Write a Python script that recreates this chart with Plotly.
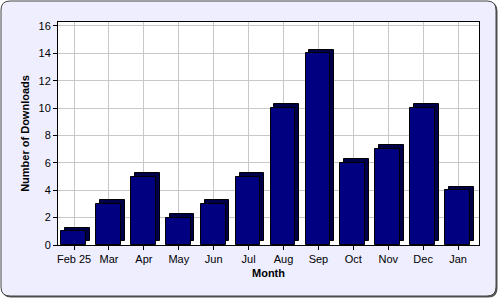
import plotly.graph_objects as go

months = ["Feb 25", "Mar", "Apr", "May", "Jun", "Jul", "Aug", "Sep", "Oct", "Nov", "Dec", "Jan"]
downloads = [1, 3, 5, 2, 3, 5, 10, 14, 6, 7, 10, 4]
y_ticks = [0, 2, 4, 6, 8, 10, 12, 14, 16]

W, H = 500, 300
L, R, T, B = 58, 21, 22, 55
pw, ph = W - L - R, H - T - B


def px(x):
    return (x - L) / pw


def py(y):
    return (H - B - y) / ph


def rounded(x0, y0, x1, y1, r):
    return (f"M {px(x0 + r)},{py(y0)} L {px(x1 - r)},{py(y0)} "
            f"Q {px(x1)},{py(y0)} {px(x1)},{py(y0 + r)} L {px(x1)},{py(y1 - r)} "
            f"Q {px(x1)},{py(y1)} {px(x1 - r)},{py(y1)} L {px(x0 + r)},{py(y1)} "
            f"Q {px(x0)},{py(y1)} {px(x0)},{py(y1 - r)} L {px(x0)},{py(y0 + r)} "
            f"Q {px(x0)},{py(y0)} {px(x0 + r)},{py(y0)} Z")


xs = list(range(len(months)))
fig = go.Figure()
# depth (3D side) bars
fig.add_trace(go.Bar(x=xs, y=downloads, base=0.27, width=0.71, offset=-0.37 + 0.11,
                     marker=dict(color="#000048", line=dict(color="black", width=1)),
                     hoverinfo="skip", showlegend=False))
# front faces
fig.add_trace(go.Bar(x=xs, y=downloads, width=0.71, offset=-0.37,
                     marker=dict(color="#000080", line=dict(color="black", width=1)),
                     showlegend=False))

shapes = [
    dict(type="path", xref="paper", yref="paper", path=rounded(2, 2, 497.5, 297.5, 9),
         fillcolor="#555555", line=dict(width=0), layer="below"),
    dict(type="path", xref="paper", yref="paper", path=rounded(1, 1, 496, 296, 9),
         fillcolor="#eeeeff", line=dict(color="#444444", width=1), layer="below"),
    dict(type="rect", xref="paper", yref="paper", x0=0, x1=1, y0=0, y1=1,
         fillcolor="white", line=dict(width=0), layer="below"),
]

fig.update_layout(
    width=W, height=H, margin=dict(l=L, r=R, t=T, b=B),
    paper_bgcolor="white", plot_bgcolor="white",
    barmode="overlay", bargap=0, shapes=shapes,
    font=dict(family="Liberation Sans, Arial, sans-serif", size=11, color="black"),
    xaxis=dict(range=[-0.46, 11.6], tickvals=xs, ticktext=months, showgrid=True,
               gridcolor="#c8c8c8", gridwidth=1, showline=True, linecolor="black", mirror=True,
               ticks="outside", ticklen=4, tickcolor="black", zeroline=False,
               title=dict(text="<b>Month</b>", font=dict(size=11), standoff=5),
               tickfont=dict(size=11)),
    yaxis=dict(range=[0, 16.29], tickvals=y_ticks, showgrid=True, gridcolor="#c8c8c8",
               showline=True, linecolor="black", mirror=True, ticks="outside", ticklen=4,
               tickcolor="black", zeroline=False,
               title=dict(text="<b>Number of Downloads</b>", font=dict(size=11), standoff=6),
               tickfont=dict(size=11)),
)

fig.write_html("out.html")
